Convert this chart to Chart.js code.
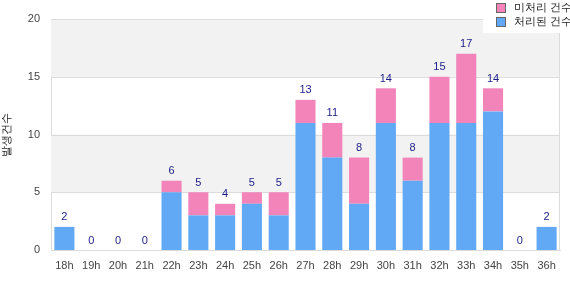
<!DOCTYPE html>
<html>
<head>
<meta charset="utf-8">
<style>
  html, body { margin: 0; padding: 0; background: #fff; }
  #wrap { width: 570px; height: 300px; position: relative; }
</style>
<script src="https://cdn.jsdelivr.net/npm/chart.js@4"></script>
</head>
<body>
<div id="wrap"><canvas id="hourChart"></canvas></div>
<script>
// chart values
var hours = ['18h','19h','20h','21h','22h','23h','24h','25h','26h','27h','28h','29h','30h','31h','32h','33h','34h','35h','36h'];
var doneCounts = [2, 0, 0, 0, 5, 3, 3, 4, 3, 11, 8, 4, 11, 6, 11, 11, 12, 0, 2];
var pendingCounts = [0, 0, 0, 0, 1, 2, 1, 1, 2, 2, 3, 4, 3, 2, 4, 6, 2, 0, 0];
var yTicks = [0, 5, 10, 15, 20];

var doneLabel = '처리된 건수';
var pendingLabel = '미처리 건수';
var yTitle = '발생건수';

var blue = '#62a9f5';
var pink = '#f384ba';
var font = 'Arial, "Liberation Sans", sans-serif';

// grey bands behind the plot (15-20 and 5-10)
var bandPlugin = {
    id: 'bands',
    beforeDatasetsDraw: function(chart) {
        var ctx = chart.ctx, y = chart.scales.y, area = chart.chartArea;
        ctx.save();
        for (var i = 0; i < yTicks.length - 1; i++) {
            if (i % 2 === 1) {
                var top = y.getPixelForValue(yTicks[i + 1]);
                var bot = y.getPixelForValue(yTicks[i]);
                ctx.fillStyle = '#f2f2f2';
                ctx.fillRect(area.left, top, area.right - area.left, bot - top);
            }
        }
        // grid lines on top of the bands
        ctx.strokeStyle = '#dcdcdc';
        ctx.lineWidth = 1;
        yTicks.forEach(function(v) {
            var p = Math.round(y.getPixelForValue(v)) + 0.5;
            ctx.beginPath();
            ctx.moveTo(area.left, p);
            ctx.lineTo(area.right, p);
            ctx.stroke();
        });
        ctx.beginPath();
        ctx.moveTo(Math.round(area.right) - 0.5, area.top);
        ctx.lineTo(Math.round(area.right) - 0.5, area.bottom);
        ctx.stroke();
        ctx.restore();
    }
};

// total labels above each stack + legend box in the corner
var labelPlugin = {
    id: 'totals',
    afterDatasetsDraw: function(chart) {
        var ctx = chart.ctx, meta = chart.getDatasetMeta(0), y = chart.scales.y;
        ctx.save();
        ctx.font = '11px ' + font;
        ctx.fillStyle = '#1c1c8a';
        ctx.textAlign = 'center';
        ctx.textBaseline = 'bottom';
        for (var i = 0; i < hours.length; i++) {
            var total = doneCounts[i] + pendingCounts[i];
            var x = meta.data[i].x;
            ctx.fillText(String(total), x, y.getPixelForValue(total) - 4);
        }

        // legend
        ctx.fillStyle = '#fff';
        ctx.fillRect(483, 0, 87, 33);
        var items = [[pendingLabel, pink], [doneLabel, blue]];
        ctx.textAlign = 'left';
        ctx.textBaseline = 'middle';
        items.forEach(function(it, k) {
            var cy = 8 + k * 14;
            ctx.fillStyle = it[1];
            ctx.fillRect(497, cy - 4, 8, 8);
            ctx.strokeStyle = '#666';
            ctx.lineWidth = 1;
            ctx.strokeRect(496.5, cy - 4.5, 9, 9);
            ctx.fillStyle = '#222';
            ctx.fillText(it[0], 514, cy);
        });
        ctx.restore();
    }
};

new Chart(document.getElementById('hourChart'), {
    type: 'bar',
    data: {
        labels: hours,
        datasets: [
            { label: doneLabel, data: doneCounts, backgroundColor: blue, barPercentage: 0.75, categoryPercentage: 1 },
            { label: pendingLabel, data: pendingCounts, backgroundColor: pink, barPercentage: 0.75, categoryPercentage: 1 }
        ]
    },
    options: {
        responsive: true,
        maintainAspectRatio: false,
        animation: false,
        layout: { padding: { top: 19, right: 10, left: 0, bottom: 0 } },
        plugins: {
            legend: { display: false },
            tooltip: { enabled: false }
        },
        scales: {
            x: {
                stacked: true,
                grid: { display: false },
                border: { color: '#dcdcdc' },
                ticks: { color: '#444', font: { size: 11, family: font }, padding: 1, maxRotation: 0, autoSkip: false },
                afterFit: function(s) { s.height = 50; }
            },
            y: {
                stacked: true,
                min: yTicks[0],
                max: yTicks[yTicks.length - 1],
                grid: { display: false },
                border: { color: '#dcdcdc' },
                ticks: { color: '#444', font: { size: 11, family: font }, padding: 3, stepSize: 5 },
                title: { display: true, text: yTitle, color: '#222', font: { size: 11, family: font }, padding: 0 },
                afterFit: function(s) { s.width = 51; }
            }
        }
    },
    plugins: [bandPlugin, labelPlugin]
});
</script>
</body>
</html>
